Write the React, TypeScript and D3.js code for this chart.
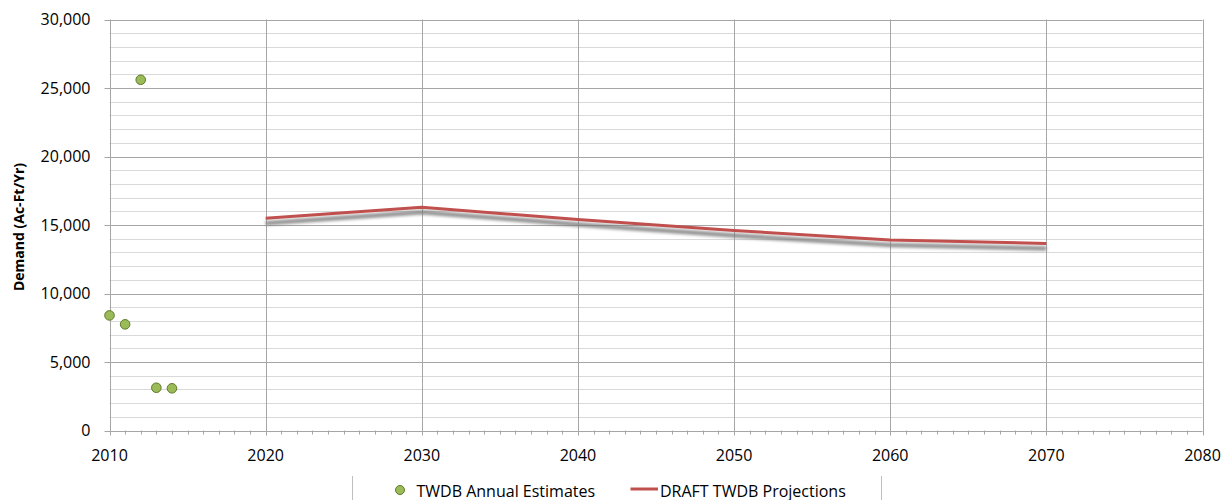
import React from "react";
import * as d3 from "d3";

const estYears = [2010, 2011, 2012, 2013, 2014];
const estValues = [8400, 7750, 25600, 3120, 3080];
const projYears = [2020, 2030, 2040, 2050, 2060, 2070];
const projValues = [15500, 16300, 15400, 14600, 13900, 13650];
const xTicks = [2010, 2020, 2030, 2040, 2050, 2060, 2070, 2080];
const yTicks = [0, 5000, 10000, 15000, 20000, 25000, 30000];

const W = 1225, H = 500;
const L = 109.5, R = 1202.5, T = 19.5, B = 430.5;
const FONT = "'Open Sans', 'Noto Sans', sans-serif";

export default function App() {
  const x = d3.scaleLinear().domain([2010, 2080]).range([L, R]);
  const y = d3.scaleLinear().domain([0, 30000]).range([B, T]);
  const minorY = d3.range(1000, 30000, 1000).filter((v) => v % 5000 !== 0);
  const minorX = d3.range(2010, 2081, 1);
  const line = d3.line<number>().x((_, i) => x(projYears[i])).y((d) => y(d));
  const fmt = d3.format(",");
  return (
    <svg width={W} height={H} style={{ position: "absolute", left: 0, top: 0, background: "#fff" }}>
      <defs>
        <filter id="blur" x="-5%" y="-50%" width="110%" height="200%">
          <feGaussianBlur stdDeviation="1.6" />
        </filter>
      </defs>
      {minorY.map((v) => (
        <line key={"my" + v} x1={L} x2={R} y1={Math.round(y(v)) + 0.5} y2={Math.round(y(v)) + 0.5} stroke="#d9d9d9" strokeWidth={1} />
      ))}
      {yTicks.map((v) => (
        <line key={"y" + v} x1={L - 5} x2={R} y1={Math.round(y(v)) + 0.5} y2={Math.round(y(v)) + 0.5} stroke="#a6a6a6" strokeWidth={1} />
      ))}
      {xTicks.map((v) => (
        <line key={"x" + v} x1={Math.round(x(v)) + 0.5} x2={Math.round(x(v)) + 0.5} y1={T} y2={B + 5} stroke="#a6a6a6" strokeWidth={1} />
      ))}
      {minorX.map((v) => (
        <line key={"mx" + v} x1={Math.round(x(v)) + 0.5} x2={Math.round(x(v)) + 0.5} y1={B} y2={B + 4} stroke="#a6a6a6" strokeWidth={1} />
      ))}
      {yTicks.map((v) => (
        <text key={"yl" + v} x={L - 19} y={y(v)} dy="0.36em" textAnchor="end" fontFamily={FONT} fontSize={16} fill="#000">
          {fmt(v)}
        </text>
      ))}
      {xTicks.map((v) => (
        <text key={"xl" + v} x={x(v)} y={460.5} textAnchor="middle" fontFamily={FONT} fontSize={16} fill="#000">
          {v}
        </text>
      ))}
      <text transform={`translate(24,${227}) rotate(-90)`} textAnchor="middle" fontFamily={FONT} fontSize={14} fontWeight="bold" fill="#000">
        Demand (Ac-Ft/Yr)
      </text>
      <path d={line(projValues) || ""} transform="translate(0,5)" fill="none" stroke="#777" strokeWidth={4.5} opacity={0.8} filter="url(#blur)" />
      <path d={line(projValues) || ""} fill="none" stroke="#c0504d" strokeWidth={3} />
      {estValues.map((v, i) => (
        <circle key={"p" + i} cx={x(estYears[i])} cy={y(v)} r={4.8} fill="#9bbb59" stroke="#5f7a2a" strokeWidth={1} />
      ))}
      <line x1={352.5} x2={352.5} y1={476} y2={500} stroke="#bfbfbf" />
      <line x1={881.5} x2={881.5} y1={476} y2={500} stroke="#bfbfbf" />
      <circle cx={400} cy={490} r={4.5} fill="#9bbb59" stroke="#5f7a2a" strokeWidth={1} />
      <text x={416.5} y={496.5} fontFamily={FONT} fontSize={16} fill="#000">TWDB Annual Estimates</text>
      <line x1={630.5} x2={658} y1={489} y2={489} stroke="#c0504d" strokeWidth={3} />
      <text x={660} y={496.5} fontFamily={FONT} fontSize={16} fill="#000">DRAFT TWDB Projections</text>
    </svg>
  );
}
